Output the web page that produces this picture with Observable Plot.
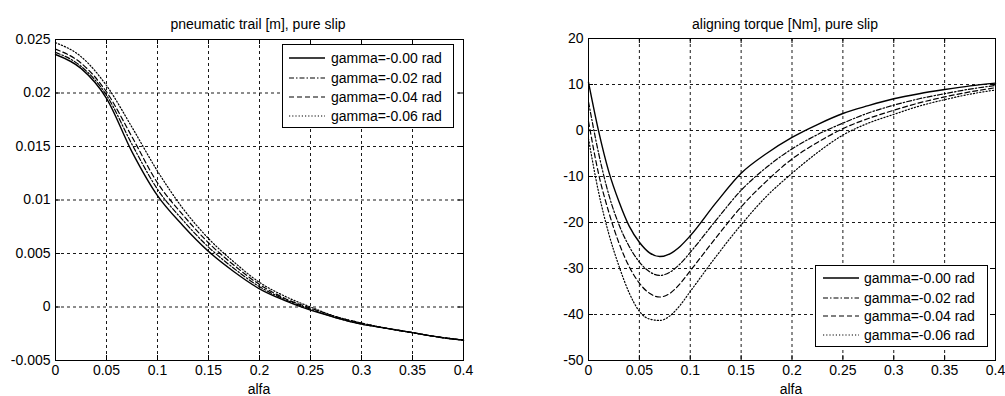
<!DOCTYPE html>
<html><head><meta charset="utf-8">
<script src="https://cdn.jsdelivr.net/npm/d3@7"></script>
<script src="https://cdn.jsdelivr.net/npm/@observablehq/plot@0.6"></script>
<style>
body{margin:0;background:#fff;}
#wrap{position:relative;width:1005px;height:396px;overflow:hidden;background:#fff;font-family:"Liberation Sans",Arial,sans-serif;color:#000;}
.panel{position:absolute;top:0;}
.lbl{position:absolute;font-size:14px;line-height:14px;white-space:nowrap;transform:translateX(-50%);}
.legend{position:absolute;background:#fff;border:1px solid #000;box-sizing:border-box;}
.legend .row{position:absolute;left:0;height:16px;font-size:14px;line-height:16px;white-space:nowrap;}
.legend svg{position:absolute;top:0;}
</style></head><body><div id="wrap"></div>
<script>
// ---------- data ----------
const seriesNames = ["gamma=-0.00 rad", "gamma=-0.02 rad", "gamma=-0.04 rad", "gamma=-0.06 rad"];
const xTicks = [0, 0.05, 0.1, 0.15, 0.2, 0.25, 0.3, 0.35, 0.4];
const trailTicks = [-0.005, 0, 0.005, 0.01, 0.015, 0.02, 0.025];
const torqueTicks = [-50, -40, -30, -20, -10, 0, 10, 20];

const alfaTrail = [0, 0.025, 0.05, 0.075, 0.1, 0.125, 0.15, 0.175, 0.2, 0.225, 0.25, 0.275, 0.3, 0.325, 0.35, 0.375, 0.4];
const trailG000 = [0.0236, 0.0223, 0.0195, 0.0145, 0.0104, 0.0076, 0.0052, 0.0033, 0.0017, 0.0006, -0.0003, -0.0010, -0.0016, -0.0020, -0.0024, -0.0028, -0.0031];
const trailG002 = [0.0238, 0.0225, 0.0198, 0.0152, 0.0110, 0.0081, 0.0056, 0.0036, 0.0019, 0.0007, -0.0002, -0.0010, -0.0016, -0.0020, -0.0024, -0.0028, -0.0031];
const trailG004 = [0.0241, 0.0228, 0.0201, 0.0159, 0.0116, 0.0086, 0.0060, 0.0039, 0.0021, 0.0008, -0.0001, -0.0009, -0.0015, -0.0020, -0.0024, -0.0028, -0.0031];
const trailG006 = [0.0247, 0.0234, 0.0207, 0.0168, 0.0127, 0.0092, 0.0064, 0.0042, 0.0023, 0.0010, 0.0000, -0.0009, -0.0015, -0.0020, -0.0024, -0.0028, -0.0031];

const alfaTorque = [0, 0.01, 0.02, 0.03, 0.04, 0.05, 0.06, 0.07, 0.08, 0.09, 0.1, 0.125, 0.15, 0.175, 0.2, 0.225, 0.25, 0.275, 0.3, 0.325, 0.35, 0.375, 0.4];
const torqueG000 = [10.5, -0.2, -9.0, -15.5, -20.8, -24.3, -26.6, -27.4, -26.8, -25.2, -22.9, -15.8, -9.3, -5.0, -1.5, 1.3, 3.7, 5.4, 6.9, 8.0, 8.9, 9.7, 10.3];
const torqueG002 = [6.2, -5.0, -14.0, -20.5, -25.2, -28.6, -30.7, -31.5, -30.8, -29.0, -26.5, -19.6, -13.0, -8.0, -4.0, -0.9, 1.6, 3.8, 5.5, 6.9, 8.0, 9.0, 9.8];
const torqueG004 = [2.0, -9.5, -17.8, -24.5, -29.6, -33.2, -35.4, -36.2, -35.4, -33.3, -30.5, -23.4, -16.6, -11.0, -6.2, -2.6, 0.4, 2.6, 4.4, 6.0, 7.3, 8.4, 9.3];
const torqueG006 = [-1.8, -13.5, -22.5, -29.5, -35.3, -39.3, -41.0, -41.3, -40.3, -38.0, -35.0, -27.5, -20.5, -14.3, -9.3, -4.8, -1.0, 1.6, 3.5, 5.3, 6.7, 7.9, 8.8];

// ---------- styles ----------
const dashes = [null, "5,2,1.5,2", "5,3", "1.2,2"];
const FONT = '"Liberation Sans", Arial, sans-serif';
const H = 396;

function panel({xs, ys, yDomain, yTicks, width, mL, mR, mT, mB}) {
  const pw = width - mL - mR, ph = H - mT - mB;
  const fmt = d => String(+d.toFixed(4));
  const marks = [
    Plot.gridX(xTicks, {stroke: "#000", strokeOpacity: 0.9, strokeDasharray: "3,3"}),
    Plot.gridY(yTicks, {stroke: "#000", strokeOpacity: 0.9, strokeDasharray: "3,3"}),
    Plot.tickX(xTicks, {x: d => d, stroke: "#000", insetTop: ph - 5}),
    Plot.tickX(xTicks, {x: d => d, stroke: "#000", insetBottom: ph - 5}),
    Plot.tickY(yTicks, {y: d => d, stroke: "#000", insetRight: pw - 5}),
    Plot.tickY(yTicks, {y: d => d, stroke: "#000", insetLeft: pw - 5}),
  ];
  ys.forEach((arr, i) => {
    const data = xs.map((a, j) => ({alfa: a, v: arr[j]}));
    marks.push(Plot.line(data, {x: "alfa", y: "v", stroke: "#000", strokeWidth: i === 0 ? 1.4 : 1.2,
      strokeDasharray: dashes[i] || undefined, curve: "monotone-x"}));
  });
  marks.push(
    Plot.frame({stroke: "#000"}),
    Plot.axisX(xTicks, {tickSize: 0, tickPadding: 5, tickFormat: fmt, label: null, fill: "#000"}),
    Plot.axisY(yTicks, {tickSize: 0, tickPadding: 5, tickFormat: fmt, label: null, fill: "#000"})
  );
  return Plot.plot({
    width, height: H, marginLeft: mL, marginRight: mR, marginTop: mT, marginBottom: mB,
    x: {domain: [0, 0.4]}, y: {domain: yDomain},
    style: {fontFamily: FONT, fontSize: "14px", color: "#000", background: "transparent"},
    marks
  });
}

const wrap = document.getElementById("wrap");

function place(el, left) {
  const d = document.createElement("div");
  d.className = "panel"; d.style.left = left + "px";
  d.appendChild(el); wrap.appendChild(d);
}

place(panel({xs: alfaTrail, ys: [trailG000, trailG002, trailG004, trailG006], yDomain: [-0.005, 0.025],
  yTicks: trailTicks, width: 485, mL: 55, mR: 22, mT: 39, mB: 36}), 0);
place(panel({xs: alfaTorque, ys: [torqueG000, torqueG002, torqueG004, torqueG006], yDomain: [-50, 20],
  yTicks: torqueTicks, width: 505, mL: 88, mR: 10, mT: 38, mB: 36}), 500);

function label(text, cx, top) {
  const d = document.createElement("div");
  d.className = "lbl"; d.textContent = text;
  d.style.left = cx + "px"; d.style.top = top + "px";
  wrap.appendChild(d);
}
label("pneumatic trail [m], pure slip", 258, 17);
label("aligning torque [Nm], pure slip", 785, 17);
label("alfa", 259, 382);
label("alfa", 791, 382);

function legend(left, top, w, h, rowTops, x0, x1, tx) {
  const box = document.createElement("div");
  box.className = "legend";
  Object.assign(box.style, {left: left + "px", top: top + "px", width: w + "px", height: h + "px"});
  seriesNames.forEach((name, i) => {
    const row = document.createElement("div");
    row.className = "row"; row.style.top = rowTops[i] + "px"; row.style.width = (w - 2) + "px";
    const svg = d3.create("svg").attr("width", x1 + 2).attr("height", 16);
    svg.append("line").attr("x1", x0).attr("x2", x1).attr("y1", 8).attr("y2", 8)
      .attr("stroke", "#000").attr("stroke-width", i === 0 ? 1.6 : 1.2)
      .attr("stroke-dasharray", dashes[i]);
    row.appendChild(svg.node());
    const t = document.createElement("span");
    t.textContent = name; t.style.position = "absolute"; t.style.left = tx + "px";
    row.appendChild(t);
    box.appendChild(row);
  });
  wrap.appendChild(box);
}
legend(282, 44, 172, 84, [5, 25, 44, 63], 6, 42, 48);
legend(815, 265, 173, 82, [4, 24, 42, 61], 7, 43, 48);
</script></body></html>
